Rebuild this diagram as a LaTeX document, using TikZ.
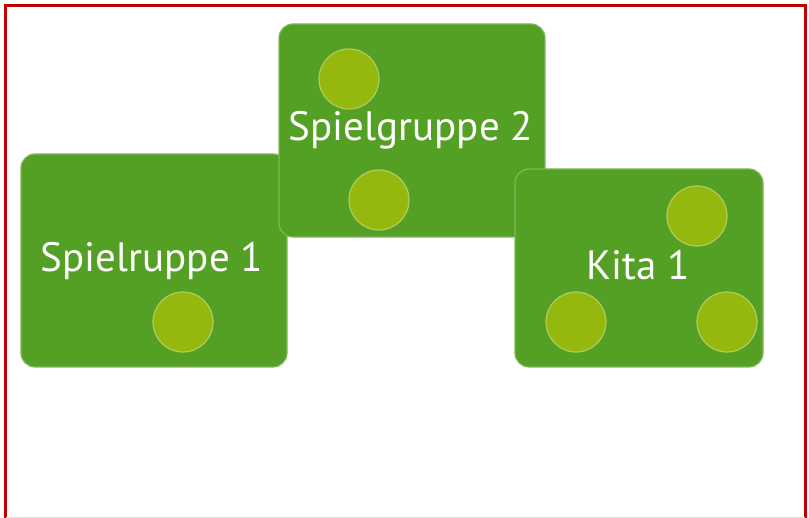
\documentclass[tikz,border=0pt]{standalone}
\usepackage{fontspec}
\setmainfont{PT Sans}
\definecolor{boxgreen}{RGB}{84,160,36}
\definecolor{boxedge}{RGB}{128,184,92}
\definecolor{dotfill}{RGB}{149,184,15}
\definecolor{dotedge}{RGB}{176,204,96}
\definecolor{frame}{RGB}{192,0,0}
\tikzset{
  group/.style={draw=boxedge, line width=1.2pt, fill=boxgreen, rounded corners=14pt, inner sep=0pt},
  dot/.style={circle, draw=dotedge, line width=1.2pt, fill=dotfill, minimum size=60pt, inner sep=0pt},
  caption/.style={text=white, font=\fontsize{41}{43}\selectfont, anchor=base, inner sep=0pt},
}
\begin{document}
\begin{tikzpicture}[x=1pt, y=-1pt]
\useasboundingbox (0,0) rectangle (809,518);
\fill[white] (0,0) rectangle (809,518);
% outer frame
\draw[frame, line width=2.2pt] (5.5,518) -- (5.5,5.5) -- (805.5,5.5) -- (805.5,518);
\draw[black!12, line width=1pt] (6,517.5) -- (805,517.5);
% first group
\node[group, minimum width=266pt, minimum height=213pt] (g1) at (154,260.5) {};
\node[dot] (d1) at (183,322) {};
\node[caption] (t1) at (152,272) {Spielruppe 1};
% second group
\node[group, minimum width=266pt, minimum height=213pt] (g2) at (412,130.5) {};
\node[dot] (d2) at (349,79) {};
\node[dot] (d3) at (379,200) {};
\node[caption] (t2) at (411,141) {Spielgruppe 2};
% third group
\node[group, minimum width=248pt, minimum height=198pt] (g3) at (639,268) {};
\node[dot] (d4) at (697,216) {};
\node[dot] (d5) at (576,322) {};
\node[dot] (d6) at (727,322) {};
\node[caption] (t3) at (638,280) {Kita 1};
\end{tikzpicture}
\end{document}
